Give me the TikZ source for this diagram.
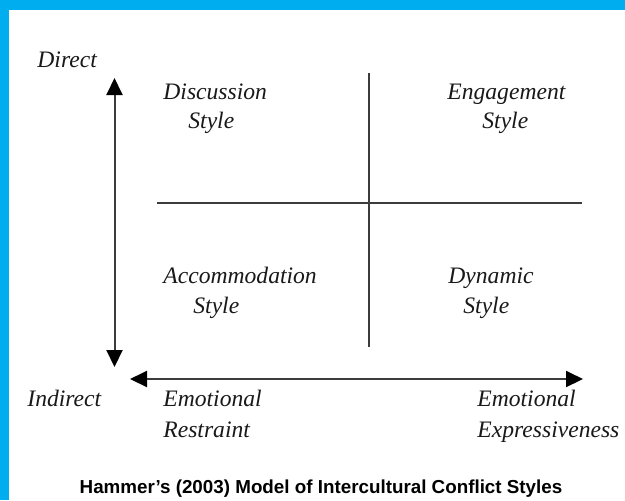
\documentclass[tikz,border=0pt]{standalone}
\usepackage{fontspec}
\setmainfont{Liberation Serif}
\newfontfamily\titlefont{Liberation Sans}
\usetikzlibrary{arrows.meta}
\definecolor{bandblue}{RGB}{0,174,239}
\definecolor{inkgray}{RGB}{25,25,25}
\definecolor{linegray}{RGB}{60,60,60}
\tikzset{
  lbl/.style={font=\fontsize{11.8}{14.5}\selectfont\itshape, text=inkgray, inner sep=0pt, anchor=base west},
  divider/.style={draw=linegray, line width=1pt},
  axis/.style={draw=linegray, line width=1pt, {Triangle[length=8.5pt,width=8pt,color=black]}-{Triangle[length=8.5pt,width=8pt,color=black]}},
  titletxt/.style={font=\titlefont\bfseries\fontsize{9.4}{11}\selectfont, text=black, inner sep=0pt, anchor=base}
}
\begin{document}
\begin{tikzpicture}[x=0.5pt,y=-0.5pt]
\useasboundingbox (0,0) rectangle (625,500);
\fill[white] (0,0) rectangle (625,500);
\fill[bandblue] (0,0) rectangle (625,10);
\fill[bandblue] (0,0) rectangle (9,500);

% axes
\coordinate (vtop) at (114.5,78);
\coordinate (vbot) at (114.5,367);
\coordinate (hleft) at (130,379);
\coordinate (hright) at (583,379);
\draw[axis] (vtop) -- (vbot);
\draw[axis] (hleft) -- (hright);

% dividers
\coordinate (dvt) at (369,73);
\coordinate (dvb) at (369,347);
\coordinate (dhl) at (157,203);
\coordinate (dhr) at (582,203);
\draw[divider] (dvt) -- (dvb);
\draw[divider] (dhl) -- (dhr);

% axis labels
\node[lbl] (direct) at (37,67) {Direct};
\node[lbl] (indirect) at (27,406) {Indirect};
\node[lbl] (er1) at (163,406) {Emotional};
\node[lbl] (er2) at (163,437) {Restraint};
\node[lbl] (ee1) at (477,406) {Emotional};
\node[lbl] (ee2) at (477,437) {Expressiveness};

% quadrant labels
\node[lbl] (disc1) at (163,99) {Discussion};
\node[lbl] (disc2) at (188,128) {Style};
\node[lbl] (eng1) at (447,99) {Engagement};
\node[lbl] (eng2) at (482,128) {Style};
\node[lbl] (acc1) at (163,283) {Accommodation};
\node[lbl] (acc2) at (193,313) {Style};
\node[lbl] (dyn1) at (448,283) {Dynamic};
\node[lbl] (dyn2) at (463,313) {Style};

% title
\node[titletxt] (title) at (321,493) {Hammer’s (2003) Model of Intercultural Conflict Styles};
\end{tikzpicture}
\end{document}
